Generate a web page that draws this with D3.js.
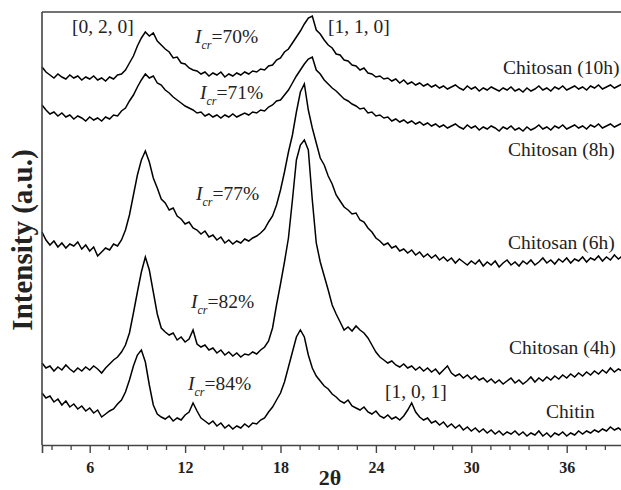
<!DOCTYPE html>
<html>
<head>
<meta charset="utf-8">
<script src="https://cdn.jsdelivr.net/npm/d3@7/dist/d3.min.js"></script>
<style>
  html, body { margin: 0; padding: 0; background: #fff; }
  svg { display: block; }
  text { font-family: "Liberation Serif", "Times New Roman", serif; fill: #222; }
</style>
</head>
<body>
<svg id="chart" width="621" height="490"></svg>
<script>
// ---- Data (2θ sampled every 0.25° from 3° to 40°; intensity in a.u., curves stacked as drawn) ----
const thetaStart = 3;
const thetaStep = 0.25;
const xDomain = [3, 40];
const majorTicks = [6, 12, 18, 24, 30, 36];
const minorStep = 1.2;

const chitosan10h = [
  378,373,370,367,371,368,366,370,367,369,365,368,
  366,369,365,367,364,368,366,370,371,375,382,389,
  399,407,413,409,412,404,400,396,393,387,388,382,
  381,377,375,374,371,373,369,372,370,373,368,371,
  369,372,370,373,371,374,373,376,375,379,380,385,
  387,393,396,402,408,414,421,427,429,415,411,405,
  400,397,391,390,385,384,380,379,375,377,372,371,
  368,369,366,367,364,366,362,365,361,363,360,362,
  359,361,358,360,357,359,356,358,360,357,355,359,
  356,358,354,357,355,358,356,354,357,355,358,354,
  356,353,357,354,356,359,355,357,354,358,356,359,
  355,357,359,356,358,355,359,357,360,356,358,360,
  357,359,361,358,360
];
const chitosan8h = [
  340,335,331,333,329,332,328,330,326,329,327,324,
  328,325,327,324,328,326,330,329,334,337,344,350,
  358,365,371,367,369,362,360,355,352,348,345,342,
  339,337,335,332,333,329,331,328,330,327,330,328,
  331,328,330,332,330,333,332,335,334,338,340,344,
  345,350,355,362,369,375,381,386,388,375,371,365,
  361,357,354,350,346,344,341,339,336,337,332,333,
  329,330,327,328,324,326,323,325,322,324,321,323,
  320,322,319,321,318,320,317,319,321,318,316,320,
  317,319,315,318,316,319,317,314,318,316,319,315,
  317,314,318,315,317,320,316,318,315,319,317,320,
  316,318,320,317,319,316,320,318,321,317,319,321,
  318,320,322,319,321
];
const chitosan6h = [
  213,205,200,204,198,202,197,201,199,203,196,200,
  194,198,189,193,197,195,201,199,205,215,230,250,
  270,285,294,283,267,257,246,242,235,237,229,226,
  221,223,217,215,211,214,208,210,205,208,202,205,
  201,204,202,206,204,207,209,212,216,223,229,240,
  255,273,293,310,333,353,361,335,317,302,287,280,
  269,261,250,244,238,235,231,232,225,223,217,213,
  207,204,200,202,197,199,194,196,192,195,190,193,
  188,191,187,190,185,188,184,187,182,186,183,180,
  184,181,185,179,183,180,184,178,182,185,180,183,
  179,184,181,185,180,183,187,182,185,181,186,183,
  187,182,186,184,188,183,187,185,189,184,188,185,
  190,186,189,187,190
];
const chitosan4h = [
  82,77,79,74,78,75,80,76,73,77,74,78,
  75,79,76,72,77,81,85,88,93,100,112,132,
  153,173,188,175,153,131,117,113,110,112,105,108,
  103,106,115,101,98,100,95,97,92,95,90,93,
  89,92,88,91,90,93,91,95,98,104,117,140,
  161,183,207,245,285,300,305,295,245,202,183,169,
  155,140,131,123,115,118,114,119,115,112,107,100,
  93,88,85,82,84,80,78,81,77,79,75,78,
  74,77,73,76,71,75,79,72,69,71,67,70,
  66,69,65,67,63,66,62,65,61,64,67,62,
  65,61,64,68,63,67,64,68,65,69,66,70,
  67,71,68,72,69,73,70,74,71,75,72,77,
  73,76,74,79,77
];
const chitin = [
  52,47,49,43,46,40,44,38,41,36,39,34,
  37,32,35,28,31,34,36,41,45,53,65,79,
  90,95,83,60,40,31,28,26,29,24,27,25,
  30,33,42,34,27,24,21,24,19,22,17,20,
  16,19,17,21,18,22,21,25,27,33,38,45,
  52,63,78,93,108,115,108,90,77,69,64,59,
  56,51,48,44,42,45,39,37,35,38,33,31,
  34,29,27,30,26,28,25,29,35,42,33,28,
  25,27,22,24,20,23,18,21,17,20,15,18,
  14,17,13,16,12,15,11,14,10,13,11,14,
  10,13,9,12,10,14,9,12,8,12,10,13,
  9,12,10,14,11,14,12,15,13,16,14,18,
  15,17,14,18,16
];

const seriesNames = ["Chitosan (10h)", "Chitosan (8h)", "Chitosan (6h)", "Chitosan (4h)", "Chitin"];
const seriesValues = [chitosan10h, chitosan8h, chitosan6h, chitosan4h, chitin];
const crystallinity = ["70%", "71%", "77%", "82%", "84%"];
const millerLabels = ["[0, 2, 0]", "[1, 1, 0]", "[1, 0, 1]"];

(function draw() {
  const svg = d3.select("#chart");
  const plotLeft = 42, plotRight = 630.3, plotTop = 12, plotBottom = 445;
  const x = d3.scaleLinear().domain(xDomain).range([plotLeft, plotRight]);
  const y = d3.scaleLinear().domain([0, plotBottom - plotTop]).range([plotBottom, plotTop]);

  const line = d3.line()
    .x((d, i) => x(thetaStart + i * thetaStep))
    .y(d => y(d));

  svg.append("g").selectAll("path")
    .data(seriesValues)
    .join("path")
    .attr("d", d => line(d))
    .attr("fill", "none")
    .attr("stroke", "#000")
    .attr("stroke-width", 1.5)
    .attr("stroke-linejoin", "miter");

  const frameColor = "#444";
  svg.append("line").attr("x1", plotLeft).attr("x2", plotLeft).attr("y1", plotTop).attr("y2", plotBottom)
    .attr("stroke", frameColor).attr("stroke-width", 1.6);
  svg.append("line").attr("x1", plotLeft).attr("x2", 621).attr("y1", plotTop).attr("y2", plotTop)
    .attr("stroke", frameColor).attr("stroke-width", 1.6);

  const majorAxis = d3.axisBottom(x).tickValues(majorTicks).tickSize(8).tickPadding(9)
    .tickFormat(d3.format("d"));
  const gMajor = svg.append("g").attr("transform", `translate(0,${plotBottom})`).call(majorAxis);
  gMajor.select(".domain").attr("stroke", frameColor).attr("stroke-width", 1.6);
  gMajor.selectAll(".tick line").attr("stroke", frameColor).attr("stroke-width", 1.4);
  gMajor.selectAll(".tick text")
    .style("font-family", '"Liberation Serif", "Times New Roman", serif')
    .style("font-weight", "bold").style("font-size", "16px").attr("fill", "#222");

  const minorTicks = d3.range(xDomain[0] + 0.6, xDomain[1], minorStep)
    .filter(v => majorTicks.every(m => Math.abs(m - v) > 0.01));
  const minorAxis = d3.axisBottom(x).tickValues(minorTicks).tickSize(5).tickFormat("");
  const gMinor = svg.append("g").attr("transform", `translate(0,${plotBottom})`).call(minorAxis);
  gMinor.select(".domain").remove();
  gMinor.selectAll(".tick line").attr("stroke", frameColor).attr("stroke-width", 1.3);

  svg.append("text").attr("x", 330).attr("y", 485).attr("text-anchor", "middle")
    .style("font-weight", "bold").style("font-size", "22px").text("2θ");
  svg.append("text").attr("transform", "translate(32,240) rotate(-90)").attr("text-anchor", "middle")
    .style("font-weight", "bold").style("font-size", "29px").text("Intensity (a.u.)");

  const seriesLabelPos = [[503, 74], [508, 156], [508, 249], [509, 354], [546, 418]];
  seriesNames.forEach((n, i) => {
    svg.append("text").attr("x", seriesLabelPos[i][0]).attr("y", seriesLabelPos[i][1])
      .style("font-size", "19.5px").text(n);
  });

  const icrPos = [[195, 43], [200, 99], [196, 200], [191, 308], [188, 390]];
  crystallinity.forEach((c, i) => {
    const t = svg.append("text").attr("x", icrPos[i][0]).attr("y", icrPos[i][1]).style("font-size", "19.5px");
    t.append("tspan").style("font-style", "italic").text("I");
    t.append("tspan").style("font-style", "italic").style("font-size", "12px").attr("dy", 6).text("cr");
    t.append("tspan").attr("dy", -6).text("=" + c);
  });

  const millerPos = [[72, 33], [328, 33], [385, 398]];
  millerLabels.forEach((m, i) => {
    svg.append("text").attr("x", millerPos[i][0]).attr("y", millerPos[i][1])
      .style("font-size", "19.5px").text(m);
  });
})();
</script>
</body>
</html>
